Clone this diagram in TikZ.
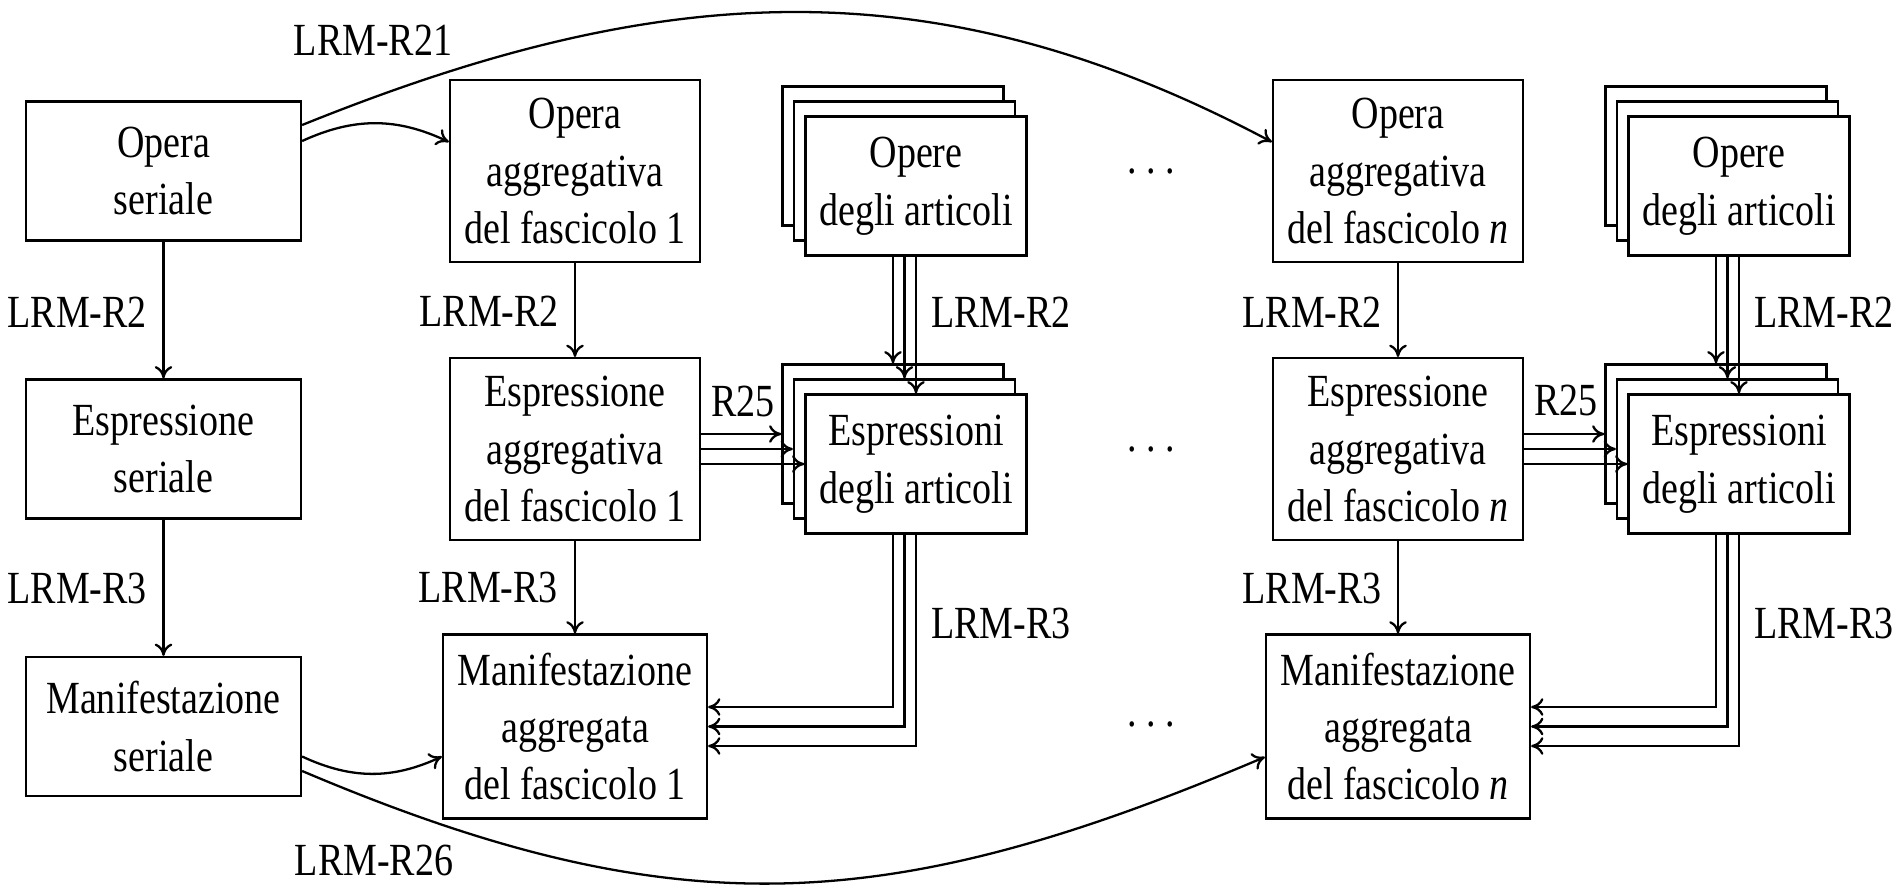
\documentclass[tikz,border=0pt]{standalone}
\usepackage{fontspec}
\setmainfont{Liberation Serif}[FakeStretch=0.826]
\usetikzlibrary{arrows.meta,calc}

\begin{document}
\begin{tikzpicture}[x=0.02cm,y=0.02cm,
  font=\fontsize{26.2pt}{32.7pt}\selectfont,
  line width=1.3pt,
  >={To[length=7pt,width=10pt]},
  box/.style={draw,fill=white,align=center,inner xsep=0.2cm,inner ysep=0.36cm,minimum height=2.78cm},
  serbox/.style={box,minimum width=5.5cm},
  aggbox/.style={box,minimum width=5.0cm},
  manbox/.style={box,minimum width=5.28cm},
  card/.style={box,minimum width=4.42cm},
  lbl/.style={inner sep=0pt},
  dots/.style={inner sep=0pt}
]
\useasboundingbox (0,0) rectangle (1901,-886);

% serial entities
\node[serbox] (os) at (163.5,-171) {Opera\\seriale};
\node[serbox] (es) at (163.5,-449) {Espressione\\seriale};
\node[serbox] (ms) at (163.5,-726.5) {Manifestazione\\seriale};

% issue 1
\node[aggbox] (oa1) at (575,-171) {Opera\\aggregativa\\del fascicolo 1};
\node[aggbox] (ea1) at (575,-449) {Espressione\\aggregativa\\del fascicolo 1};
\node[manbox] (ma1) at (575,-726.5) {Manifestazione\\aggregata\\del fascicolo 1};

\node[card] (ob1) at (893,-156) {};
\node[card] (om1) at (904.5,-171) {};
\node[card] (of1) at (916,-186) {Opere\\degli articoli};
\node[card] (eb1) at (893,-434) {};
\node[card] (em1) at (904.5,-449) {};
\node[card] (ef1) at (916,-464) {Espressioni\\degli articoli};

% issue n
\node[aggbox] (oan) at (1398,-171) {Opera\\aggregativa\\del fascicolo \textit{n}};
\node[aggbox] (ean) at (1398,-449) {Espressione\\aggregativa\\del fascicolo \textit{n}};
\node[manbox] (man) at (1398,-726.5) {Manifestazione\\aggregata\\del fascicolo \textit{n}};

\node[card] (obn) at (1716,-156) {};
\node[card] (omn) at (1727.5,-171) {};
\node[card] (ofn) at (1739,-186) {Opere\\degli articoli};
\node[card] (ebn) at (1716,-434) {};
\node[card] (emn) at (1727.5,-449) {};
\node[card] (efn) at (1739,-464) {Espressioni\\degli articoli};

% ellipses between issues
\node[dots] (d1) at (1151,-171) {.\kern5.4pt.\kern5.4pt.};
\node[dots] (d2) at (1151,-449) {.\kern5.4pt.\kern5.4pt.};
\node[dots] (d3) at (1151,-724) {.\kern5.4pt.\kern5.4pt.};

% serial chain
\draw[->] (os) -- (es);
\draw[->] (es) -- (ms);
\node[lbl,anchor=base east] at (148,-327) {LRM-R2};
\node[lbl,anchor=base east] at (148,-603) {LRM-R3};

% issue chains
\foreach \k in {1,n}{
  \draw[->] (oa\k) -- (ea\k);
  \draw[->] (ea\k) -- (ma\k);
  \draw[->] (ob\k.south |- of\k.south) -- (eb\k.north);
  \draw[->] (om\k.south |- of\k.south) -- (em\k.north);
  \draw[->] (of\k.south) -- (ef\k.north);
  \draw[->] (ea\k.east |- eb\k.west) -- (eb\k.west);
  \draw[->] (ea\k.east |- em\k.west) -- (em\k.west);
  \draw[->] (ea\k.east |- ef\k.west) -- (ef\k.west);
  \draw[->] (eb\k.south |- ef\k.south) |- ([yshift=0.39cm]ma\k.east);
  \draw[->] (em\k.south |- ef\k.south) |- (ma\k.east);
  \draw[->] (ef\k.south) |- ([yshift=-0.39cm]ma\k.east);
}

\node[lbl,anchor=base east] at (560,-326) {LRM-R2};
\node[lbl,anchor=base east] at (559,-602) {LRM-R3};
\node[lbl,anchor=base west] at (930,-327) {LRM-R2};
\node[lbl,anchor=base west] at (930,-638) {LRM-R3};
\node[lbl,anchor=base west] at (710,-416) {R25};

\node[lbl,anchor=base east] at (1383,-327) {LRM-R2};
\node[lbl,anchor=base east] at (1383,-603) {LRM-R3};
\node[lbl,anchor=base west] at (1753,-327) {LRM-R2};
\node[lbl,anchor=base west] at (1753,-638) {LRM-R3};
\node[lbl,anchor=base west] at (1533,-415) {R25};

% serial to issue links
\draw[->] ([yshift=0.6cm]os.east) to[bend left=25] ([yshift=0.58cm]oa1.west);
\draw[->] ([yshift=0.92cm]os.east) to[out=22,in=152,looseness=1.01] ([yshift=0.58cm]oan.west);
\draw[->] ([yshift=-0.6cm]ms.east) to[bend right=25] ([yshift=-0.6cm]ma1.west);
\draw[->] ([yshift=-0.89cm]ms.east) to[out=-23,in=203,looseness=1.08] ([yshift=-0.61cm]man.west);
\node[lbl,anchor=base] at (373,-55) {LRM-R21};
\node[lbl,anchor=base] at (374,-875) {LRM-R26};
\end{tikzpicture}
\end{document}
